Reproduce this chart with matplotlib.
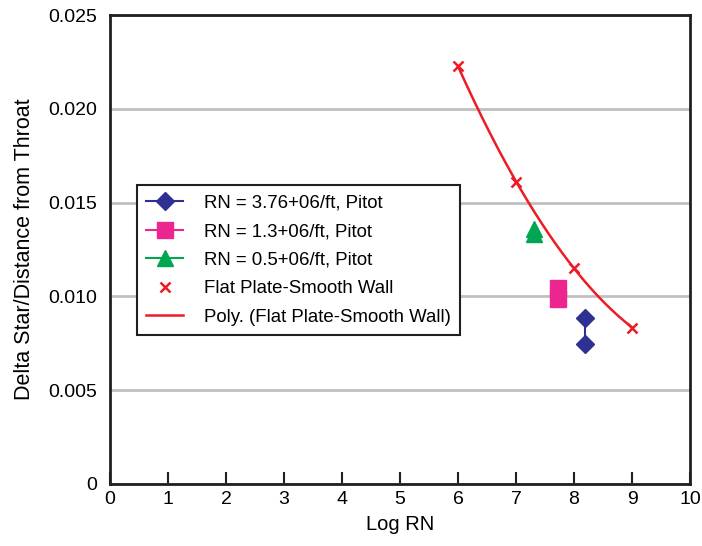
import numpy as np
import matplotlib
matplotlib.use('Agg')
import matplotlib.pyplot as plt
from matplotlib.ticker import FuncFormatter

plt.rcParams['font.family'] = ['Liberation Sans', 'DejaVu Sans']

# Pitot measurements (Log RN, delta star / distance from throat)
rn376_x = [8.19, 8.19]
rn376_y = [0.00885, 0.00748]
rn13_x = [7.73, 7.73]
rn13_y = [0.01044, 0.00986]
rn05_x = [7.31, 7.31]
rn05_y = [0.01357, 0.01335]

# Flat plate, smooth wall reference
flat_x = [6, 7, 8, 9]
flat_y = [0.02228, 0.01608, 0.01154, 0.00833]

fig = plt.figure(figsize=(7.02, 5.46), dpi=100)
ax = fig.add_axes([0.1567, 0.1136, 0.8263, 0.8589])

ax.plot(rn376_x, rn376_y, color='#2e3192', marker='D', markersize=9, lw=1.5,
        label='RN = 3.76+06/ft, Pitot')
ax.plot(rn13_x, rn13_y, color='#ec268f', marker='s', markersize=12, lw=1.5,
        label='RN = 1.3+06/ft, Pitot')
ax.plot(rn05_x, rn05_y, color='#00a651', marker='^', markersize=12, lw=1.5,
        label='RN = 0.5+06/ft, Pitot')
ax.plot(flat_x, flat_y, ls='none', color='#ed1c24', marker='x', markersize=7,
        mew=1.8, label='Flat Plate-Smooth Wall')

# 2nd order polynomial trendline through the flat plate points
coef = np.polyfit(flat_x, flat_y, 2)
xs = np.linspace(flat_x[0], flat_x[-1], 200)
ax.plot(xs, np.polyval(coef, xs), color='#ed1c24', lw=1.8,
        label='Poly. (Flat Plate-Smooth Wall)')

ax.set_xlim(0, 10)
ax.set_ylim(0, 0.025)
ax.set_xticks(range(0, 11))
ax.set_yticks(np.arange(0, 0.0251, 0.005))
ax.yaxis.set_major_formatter(FuncFormatter(lambda v, p: '0' if v == 0 else f'{v:.3f}'))
ax.grid(axis='y', color='#c0c0c0', lw=2)
ax.set_axisbelow(True)

for s in ax.spines.values():
    s.set_linewidth(2)
    s.set_color('#231f20')
ax.tick_params(axis='x', direction='in', length=9, width=1.5, labelsize=14, pad=5,
               color='#231f20')
ax.tick_params(axis='y', length=0, labelsize=14, pad=9)

ax.set_xlabel('Log RN', fontsize=14.5, labelpad=5)
ax.set_ylabel('Delta Star/Distance from Throat', fontsize=15.5, labelpad=10)

leg = ax.legend(loc='upper left', bbox_to_anchor=(0.046, 0.637), fontsize=13.4,
                fancybox=False, edgecolor='#231f20', framealpha=1,
                handlelength=2.0, handletextpad=1.1, borderpad=0.5,
                labelspacing=0.62, borderaxespad=0)
leg.get_frame().set_linewidth(1.5)

fig.savefig('out.png', dpi=100)
